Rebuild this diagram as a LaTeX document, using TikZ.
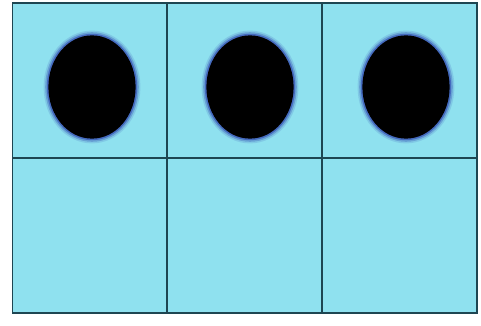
\documentclass[tikz,border=0pt]{standalone}
\usetikzlibrary{shapes.geometric}
\definecolor{cellfill}{HTML}{8FE1EF}
\definecolor{gridline}{HTML}{1E4652}
\definecolor{glowblue}{HTML}{2E46B0}
\begin{document}
\begin{tikzpicture}[
        x=0.025cm, y=-0.025cm,
        cell/.style={draw=gridline, fill=cellfill, line width=1.1pt, minimum width=3.875cm, minimum height=3.875cm, inner sep=0pt},
        glow/.style={ellipse, fill=glowblue, minimum width=2.42cm, minimum height=2.82cm, inner sep=0pt},
        dot/.style={ellipse, fill=black, minimum width=2.18cm, minimum height=2.58cm, inner sep=0pt}
    ]
        \useasboundingbox[fill=white] (0,0) rectangle (481,326);
        % Grid of cells
        \foreach \col/\cx in {1/90, 2/244.5, 3/399.5} {
            \node[cell] (top\col) at (\cx,80.5) {};
            \node[cell] (bot\col) at (\cx,235.5) {};
        }
        % Dots in the top row
        \foreach \col/\dx in {1/92, 2/250, 3/406} {
            \node[glow, opacity=0.15] (halo\col) at (\dx,87) {};
            \node[glow, opacity=0.3, minimum width=2.34cm, minimum height=2.74cm] at (\dx,87) {};
            \node[glow, opacity=0.6, minimum width=2.26cm, minimum height=2.66cm] at (\dx,87) {};
            \node[dot] (dot\col) at (\dx,87) {};
        }
    \end{tikzpicture}
\end{document}
